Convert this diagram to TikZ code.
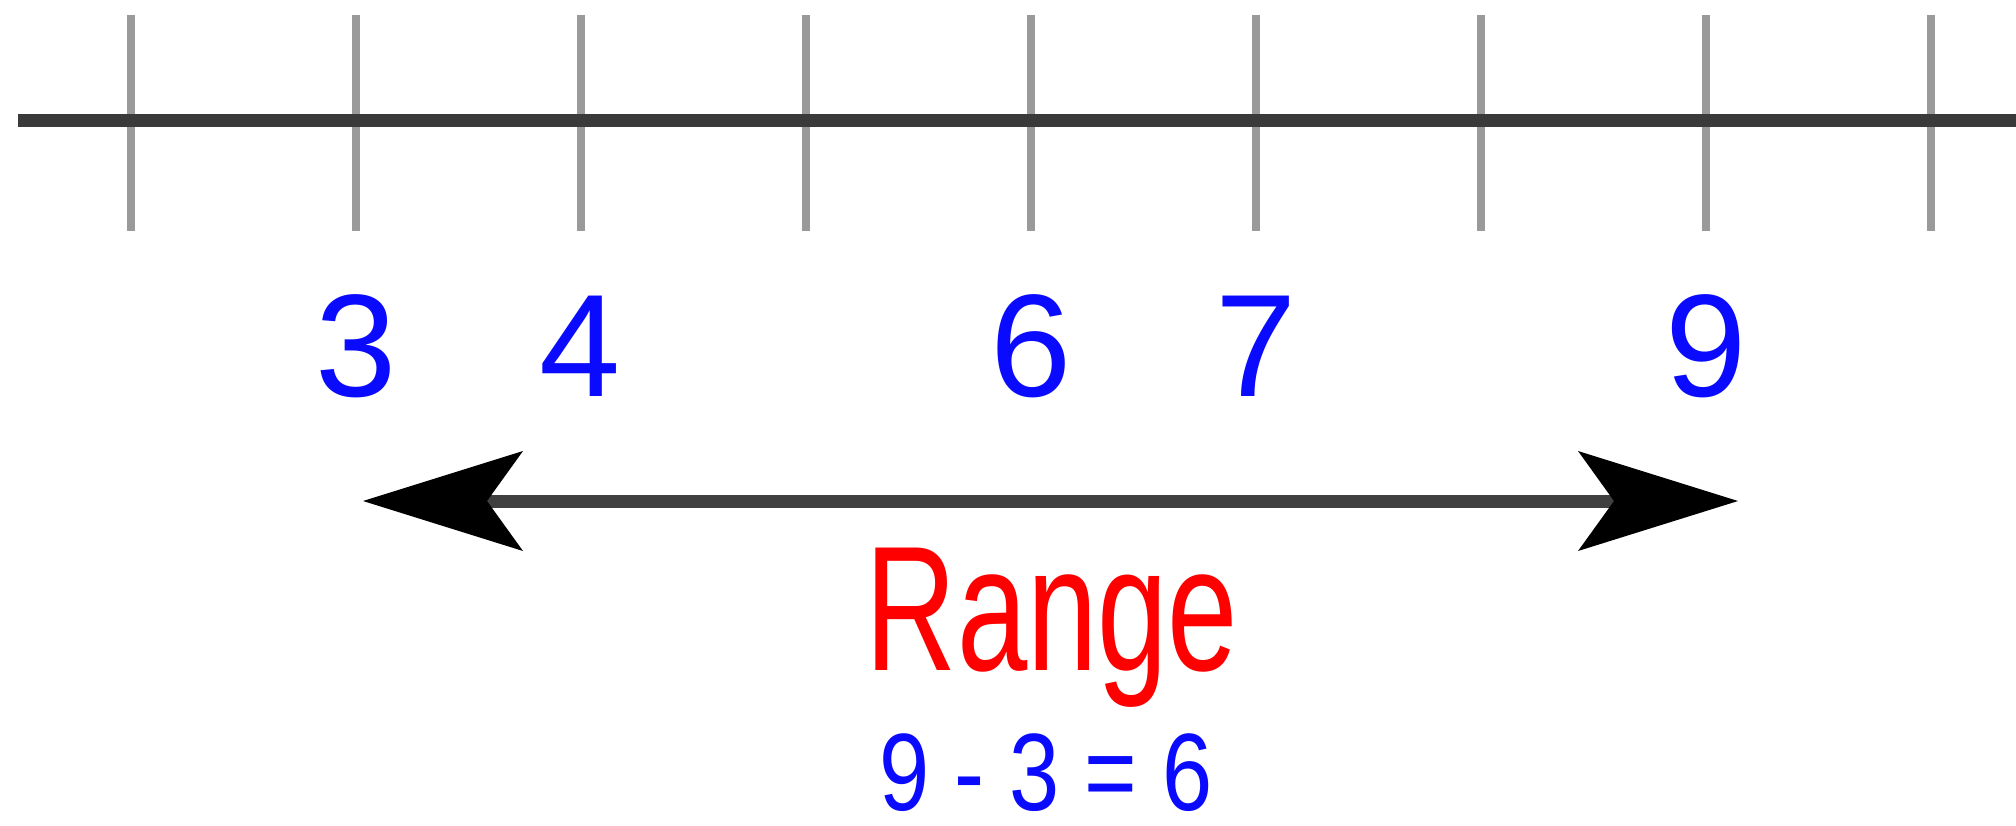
\documentclass[tikz,border=0pt]{standalone}
\usepackage{fontspec}
\setmainfont{Liberation Sans}
\usetikzlibrary{arrows.meta}
\definecolor{tickgray}{HTML}{9A9A9A}
\definecolor{axisgray}{HTML}{3A3A3A}
\definecolor{spangray}{HTML}{404040}
\definecolor{numblue}{HTML}{0A0AFF}
\definecolor{rangered}{HTML}{FF0000}
\tikzset{
  tickline/.style={draw=tickgray,line width=4pt},
  axisline/.style={draw=axisgray,line width=6.5pt},
  numlabel/.style={text=numblue,font=\fontsize{73}{80}\selectfont,anchor=base,inner sep=0pt},
  spanline/.style={draw=spangray,line width=6.5pt,{Stealth[length=80pt,width=50pt,inset=18pt,color=black,line width=0pt]}-{Stealth[length=80pt,width=50pt,inset=18pt,color=black,line width=0pt]}},
  rangetext/.style={text=rangered,font=\fontsize{89}{96}\selectfont,anchor=base,inner sep=0pt},
  calctext/.style={text=numblue,font=\fontsize{55}{60}\selectfont,anchor=base,inner sep=0pt},
}
\begin{document}
\begin{tikzpicture}[x=0.5pt,y=-0.5pt]
\useasboundingbox (0,0) rectangle (2016,825);
% ticks
\foreach \i in {0,...,8}
  \draw[tickline] ({130.5+225.1*\i},15) -- ({130.5+225.1*\i},231);
% axis
\coordinate (axL) at (18,120);
\coordinate (axR) at (2016,120);
\draw[axisline] (axL) -- (axR);
% value labels
\node[numlabel] (n3) at (356,396) {3};
\node[numlabel] (n4) at (580,396) {4};
\node[numlabel] (n6) at (1031,396) {6};
\node[numlabel] (n7) at (1256,396) {7};
\node[numlabel] (n9) at (1706,396) {9};
% span arrow
\coordinate (spanL) at (363,501);
\coordinate (spanR) at (1738,501);
\draw[spanline] (spanL) -- (spanR);
% texts
\node[rangetext] (range) at (1052,670) {\scalebox{0.71}[1]{Range}};
\node[calctext] (calc) at (1046,810) {\scalebox{0.82}[1]{9 - 3 = 6}};
\end{tikzpicture}
\end{document}
